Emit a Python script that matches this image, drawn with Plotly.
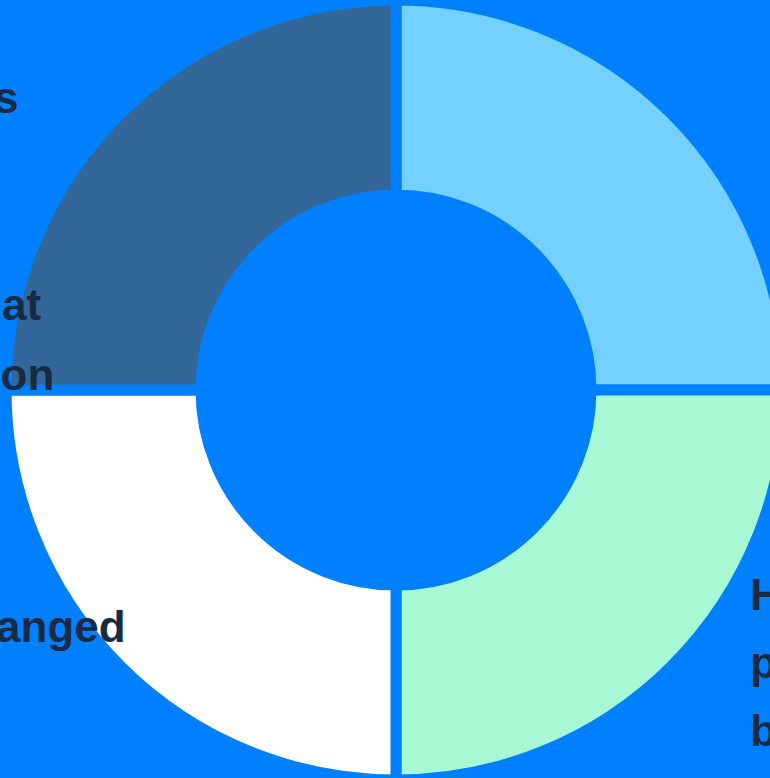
import plotly.graph_objects as go

# Data
categories = ["Has plans but no budget", "Unchanged", "Improves processes", "Somewhat common"]
values = [25, 25, 25, 25]
colors = ["#73D0FF", "#A6F9D4", "#FFFFFF", "#336699"]

# Label lines (visible fragments of outside labels)
label_lines = ["Improves processes", "Somewhat", "common", "Unchanged", "Has", "plans", "but"]

BG = "#0080FF"
TXT = "#172B45"
W, H = 792, 780

fig = go.Figure(go.Pie(
    labels=categories,
    values=values,
    marker=dict(colors=colors, line=dict(color=BG, width=11)),
    hole=0.5,
    sort=False,
    direction="clockwise",
    rotation=0,
    textinfo="none",
    hoverinfo="label+percent",
    showlegend=False,
    domain=dict(x=[0, 1], y=[0, 1]),
))

# (line index, x px, y px, anchor)
placements = [
    (0, 21, 97, "right"),
    (1, 43, 305, "right"),
    (2, 56, 374, "right"),
    (3, 128, 626, "right"),
    (4, 748, 594, "left"),
    (5, 748, 662, "left"),
    (6, 748, 730, "left"),
]
annotations = []
for i, xp, yp, anc in placements:
    annotations.append(dict(
        text=label_lines[i], x=xp / W, y=1 - yp / H, xref="paper", yref="paper",
        xanchor=anc, yanchor="middle", showarrow=False,
        font=dict(family="Liberation Sans, Arial, sans-serif", size=44, color=TXT, weight="bold"),
    ))

fig.update_layout(
    width=W, height=H,
    margin=dict(l=0, r=0, t=0, b=0),
    paper_bgcolor=BG, plot_bgcolor=BG,
    annotations=annotations,
)

fig.write_html("out.html", post_script="document.documentElement.style.overflow='hidden';document.body.style.overflow='hidden';document.body.style.margin='0';")
